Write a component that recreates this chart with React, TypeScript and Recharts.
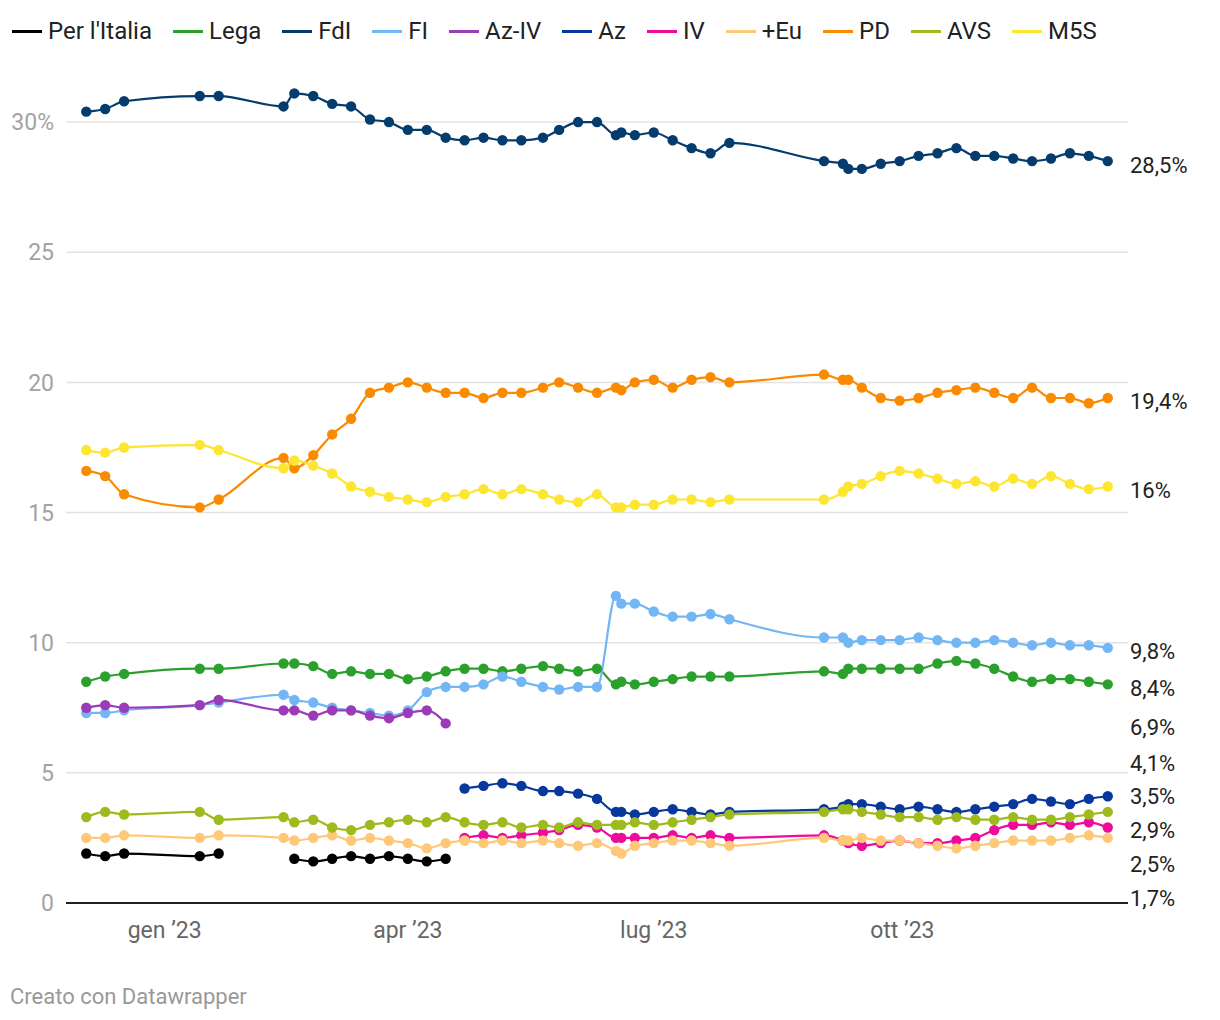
import React from 'react';
import { LineChart, Line, XAxis, YAxis, CartesianGrid, ReferenceDot } from 'recharts';

// Poll dates (weekly polls)
const pollDates = [
  '2022-12-03', '2022-12-10', '2022-12-17', '2023-01-14', '2023-01-21', '2023-02-14',
  '2023-02-18', '2023-02-25', '2023-03-04', '2023-03-11', '2023-03-18', '2023-03-25',
  '2023-04-01', '2023-04-08', '2023-04-15', '2023-04-22', '2023-04-29', '2023-05-06',
  '2023-05-13', '2023-05-21', '2023-05-27', '2023-06-03', '2023-06-10', '2023-06-17',
  '2023-06-19', '2023-06-24', '2023-07-01', '2023-07-08', '2023-07-15', '2023-07-22',
  '2023-07-29', '2023-09-02', '2023-09-09', '2023-09-11', '2023-09-16', '2023-09-23',
  '2023-09-30', '2023-10-07', '2023-10-14', '2023-10-21', '2023-10-28', '2023-11-04',
  '2023-11-11', '2023-11-18', '2023-11-25', '2023-12-02', '2023-12-09', '2023-12-16',
];

const _ = null;

const perItalia = [1.9, 1.8, 1.9, 1.8, 1.9, _, 1.7, 1.6, 1.7, 1.8, 1.7, 1.8, 1.7, 1.6, 1.7,
  _, _, _, _, _, _, _, _, _, _, _, _, _, _, _, _, _, _, _, _, _, _, _, _, _, _, _, _, _, _, _, _, _];
const lega = [8.5, 8.7, 8.8, 9.0, 9.0, 9.2, 9.2, 9.1, 8.8, 8.9, 8.8, 8.8, 8.6, 8.7, 8.9, 9.0,
  9.0, 8.9, 9.0, 9.1, 9.0, 8.9, 9.0, 8.4, 8.5, 8.4, 8.5, 8.6, 8.7, 8.7, 8.7, 8.9, 8.8, 9.0,
  9.0, 9.0, 9.0, 9.0, 9.2, 9.3, 9.2, 9.0, 8.7, 8.5, 8.6, 8.6, 8.5, 8.4];
const fdi = [30.4, 30.5, 30.8, 31.0, 31.0, 30.6, 31.1, 31.0, 30.7, 30.6, 30.1, 30.0, 29.7, 29.7,
  29.4, 29.3, 29.4, 29.3, 29.3, 29.4, 29.7, 30.0, 30.0, 29.5, 29.6, 29.5, 29.6, 29.3, 29.0, 28.8,
  29.2, 28.5, 28.4, 28.2, 28.2, 28.4, 28.5, 28.7, 28.8, 29.0, 28.7, 28.7, 28.6, 28.5, 28.6, 28.8,
  28.7, 28.5];
const fi = [7.3, 7.3, 7.4, 7.6, 7.7, 8.0, 7.8, 7.7, 7.5, 7.4, 7.3, 7.2, 7.4, 8.1, 8.3, 8.3, 8.4,
  8.7, 8.5, 8.3, 8.2, 8.3, 8.3, 11.8, 11.5, 11.5, 11.2, 11.0, 11.0, 11.1, 10.9, 10.2, 10.2, 10.0,
  10.1, 10.1, 10.1, 10.2, 10.1, 10.0, 10.0, 10.1, 10.0, 9.9, 10.0, 9.9, 9.9, 9.8];
const azIv = [7.5, 7.6, 7.5, 7.6, 7.8, 7.4, 7.4, 7.2, 7.4, 7.4, 7.2, 7.1, 7.3, 7.4, 6.9,
  _, _, _, _, _, _, _, _, _, _, _, _, _, _, _, _, _, _, _, _, _, _, _, _, _, _, _, _, _, _, _, _, _];
const az = [_, _, _, _, _, _, _, _, _, _, _, _, _, _, _,
  4.4, 4.5, 4.6, 4.5, 4.3, 4.3, 4.2, 4.0, 3.5, 3.5, 3.4, 3.5, 3.6, 3.5, 3.4, 3.5, 3.6, 3.7, 3.8,
  3.8, 3.7, 3.6, 3.7, 3.6, 3.5, 3.6, 3.7, 3.8, 4.0, 3.9, 3.8, 4.0, 4.1];
const iv = [_, _, _, _, _, _, _, _, _, _, _, _, _, _, _,
  2.5, 2.6, 2.5, 2.6, 2.7, 2.8, 3.0, 2.9, 2.5, 2.5, 2.5, 2.5, 2.6, 2.5, 2.6, 2.5, 2.6, 2.4, 2.3,
  2.2, 2.3, 2.4, 2.3, 2.3, 2.4, 2.5, 2.8, 3.0, 3.0, 3.1, 3.0, 3.1, 2.9];
const piuEu = [2.5, 2.5, 2.6, 2.5, 2.6, 2.5, 2.4, 2.5, 2.6, 2.4, 2.5, 2.4, 2.3, 2.1, 2.3, 2.4,
  2.3, 2.4, 2.3, 2.4, 2.3, 2.2, 2.3, 2.0, 1.9, 2.2, 2.3, 2.4, 2.4, 2.3, 2.2, 2.5, 2.4, 2.4, 2.5,
  2.4, 2.4, 2.3, 2.2, 2.1, 2.2, 2.3, 2.4, 2.4, 2.4, 2.5, 2.6, 2.5];
const pd = [16.6, 16.4, 15.7, 15.2, 15.5, 17.1, 16.7, 17.2, 18.0, 18.6, 19.6, 19.8, 20.0, 19.8,
  19.6, 19.6, 19.4, 19.6, 19.6, 19.8, 20.0, 19.8, 19.6, 19.8, 19.7, 20.0, 20.1, 19.8, 20.1, 20.2,
  20.0, 20.3, 20.1, 20.1, 19.8, 19.4, 19.3, 19.4, 19.6, 19.7, 19.8, 19.6, 19.4, 19.8, 19.4, 19.4,
  19.2, 19.4];
const avs = [3.3, 3.5, 3.4, 3.5, 3.2, 3.3, 3.1, 3.2, 2.9, 2.8, 3.0, 3.1, 3.2, 3.1, 3.3, 3.1, 3.0,
  3.1, 2.9, 3.0, 2.9, 3.1, 3.0, 3.0, 3.0, 3.1, 3.0, 3.1, 3.2, 3.3, 3.4, 3.5, 3.6, 3.6, 3.5, 3.4,
  3.3, 3.3, 3.2, 3.3, 3.2, 3.2, 3.3, 3.2, 3.2, 3.3, 3.4, 3.5];
const m5s = [17.4, 17.3, 17.5, 17.6, 17.4, 16.7, 17.0, 16.8, 16.5, 16.0, 15.8, 15.6, 15.5, 15.4,
  15.6, 15.7, 15.9, 15.7, 15.9, 15.7, 15.5, 15.4, 15.7, 15.2, 15.2, 15.3, 15.3, 15.5, 15.5, 15.4,
  15.5, 15.5, 15.8, 16.0, 16.1, 16.4, 16.6, 16.5, 16.3, 16.1, 16.2, 16.0, 16.3, 16.1, 16.4, 16.1,
  15.9, 16.0];

const xTickDates = ['2023-01-01', '2023-04-01', '2023-07-01', '2023-10-01'];
const xTickLabels = ['gen ’23', 'apr ’23', 'lug ’23', 'ott ’23'];
const yTicks = [0, 5, 10, 15, 20, 25, 30];

const series = [
  { key: 'perItalia', name: "Per l'Italia", color: '#000000', values: perItalia },
  { key: 'lega', name: 'Lega', color: '#2ca02c', values: lega },
  { key: 'fdi', name: 'FdI', color: '#053c6e', values: fdi },
  { key: 'fi', name: 'FI', color: '#73b6f6', values: fi },
  { key: 'azIv', name: 'Az-IV', color: '#9b3bb8', values: azIv },
  { key: 'az', name: 'Az', color: '#08389c', values: az },
  { key: 'iv', name: 'IV', color: '#ee0a9c', values: iv },
  { key: 'piuEu', name: '+Eu', color: '#ffc878', values: piuEu },
  { key: 'pd', name: 'PD', color: '#fa8b00', values: pd },
  { key: 'avs', name: 'AVS', color: '#9dbb1c', values: avs },
  { key: 'm5s', name: 'M5S', color: '#fde631', values: m5s },
];

const DAY0 = Date.UTC(2023, 0, 1);
const toDay = (s: string) => {
  const [y, m, d] = s.split('-').map(Number);
  return Math.round((Date.UTC(y, m - 1, d) - DAY0) / 86400000);
};

const data = pollDates.map((d, i) => {
  const row: any = { day: toDay(d) };
  series.forEach((s) => { row[s.key] = s.values[i]; });
  return row;
});

const X_MIN = toDay('2022-11-26') - 0.5;
const X_MAX = toDay('2023-12-23') + 0.5;
const xTicks = xTickDates.map(toDay);
const tickLabelFor = (v: number) => {
  const i = xTicks.indexOf(v);
  return i >= 0 ? xTickLabels[i] : '';
};

// End labels with simple collision avoidance (in value units)
const LABEL_GAP = 1.3;
const LABEL_MIN = 0.33;
const lastValue = (vals: (number | null)[]) => {
  for (let i = vals.length - 1; i >= 0; i--) if (vals[i] != null) return vals[i] as number;
  return 0;
};
const fmt = (v: number) => (Number.isInteger(v) ? String(v) : v.toFixed(1).replace('.', ',')) + '%';
const endLabels = (() => {
  const items = series.map((s) => ({ key: s.key, value: lastValue(s.values), pos: lastValue(s.values) }));
  items.sort((a, b) => b.value - a.value);
  for (let i = 1; i < items.length; i++) {
    items[i].pos = Math.min(items[i].pos, items[i - 1].pos - LABEL_GAP);
  }
  items[items.length - 1].pos = Math.max(items[items.length - 1].pos, LABEL_MIN);
  for (let i = items.length - 2; i >= 0; i--) {
    items[i].pos = Math.max(items[i].pos, items[i + 1].pos + LABEL_GAP);
  }
  return items;
})();

const FONT = 'Roboto, "Noto Sans", sans-serif';

export default function App() {
  return (
    <div style={{ position: 'relative', width: 1204, height: 1004, fontFamily: FONT, background: '#fff' }}>
      <div style={{ position: 'absolute', left: 4, top: 8, display: 'flex', alignItems: 'center', lineHeight: '30px' }}>
        {series.map((s) => (
          <div key={s.key} style={{ display: 'flex', alignItems: 'center', marginRight: 21 }}>
            <span style={{ display: 'inline-block', width: 30, height: 3, background: s.color, marginRight: 6 }} />
            <span style={{ fontSize: 24, color: '#222' }}>{s.name}</span>
          </div>
        ))}
      </div>
      <div style={{ position: 'absolute', top: 0, left: 0 }}>
        <LineChart width={1204} height={1004} data={data} margin={{ top: 62, right: 84, bottom: 69, left: 0 }}>
          <CartesianGrid
            horizontal
            vertical={false}
            horizontalValues={yTicks}
            stroke="#e3e3e3"
            strokeWidth={1.5}
          />
          <XAxis
            dataKey="day"
            type="number"
            domain={[X_MIN, X_MAX]}
            ticks={xTicks}
            tickFormatter={tickLabelFor}
            allowDataOverflow
            height={40}
            tickLine={false}
            tickSize={0}
            tickMargin={19}
            axisLine={{ stroke: '#222', strokeWidth: 2 }}
            tick={{ fill: '#666', fontSize: 23, fontFamily: FONT }}
          />
          <YAxis
            type="number"
            domain={[0, 32]}
            ticks={yTicks}
            width={58}
            tickLine={false}
            tickSize={0}
            tickMargin={12}
            axisLine={false}
            tickFormatter={(v: number) => (v === 30 ? '30%' : String(v))}
            tick={{ fill: '#a3a3a3', fontSize: 23, fontFamily: FONT }}
          />
          {series.map((s) => (
            <Line
              key={s.key}
              dataKey={s.key}
              name={s.name}
              type="monotone"
              stroke={s.color}
              strokeWidth={2.2}
              dot={{ r: 5.2, fill: s.color, stroke: s.color, strokeWidth: 0 }}
              activeDot={false}
              connectNulls={false}
              isAnimationActive={false}
            />
          ))}
          {endLabels.map((l) => (
            <ReferenceDot
              key={'lbl-' + l.key}
              x={X_MAX}
              y={l.pos}
              ifOverflow="visible"
              shape={(p: any) => (
                <text x={p.cx + 2} y={p.cy} dy={4} dominantBaseline="central" fill="#222" fontSize={22} fontFamily={FONT}>
                  {fmt(l.value)}
                </text>
              )}
            />
          ))}
        </LineChart>
      </div>
      <div style={{ position: 'absolute', left: 2, top: 976, fontSize: 22, lineHeight: '26px', color: '#999' }}>
        Creato con Datawrapper
      </div>
    </div>
  );
}
